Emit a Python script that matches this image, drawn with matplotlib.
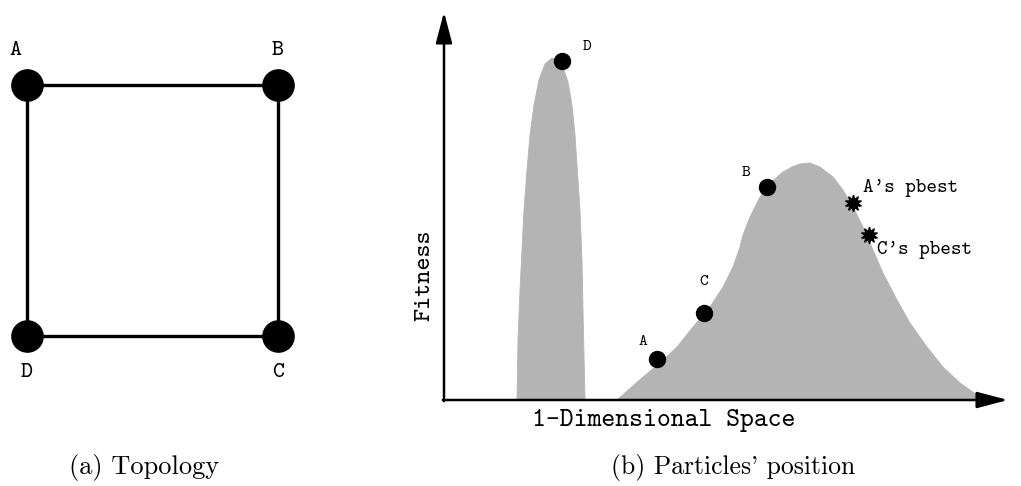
# coding=utf-8
"""
Ring topology of four particles and their position on a 1-D fitness landscape.
"""
import matplotlib
import matplotlib.pyplot as plt

GRAY = '#b4b4b4'
MONO = 'cmtt10'   # typewriter font shipped with matplotlib
SERIF = 'cmr10'

# (a) topology: nodes on the unit square
node_names = ['A', 'B', 'C', 'D']
node_x = [0, 1, 1, 0]
node_y = [1, 1, 0, 0]
edges = [('A', 'B'), ('B', 'C'), ('C', 'D'), ('D', 'A')]

# (b) fitness landscape, outlines (space, fitness)
peak_x = [73, 74, 76, 78, 80, 83, 86, 90, 95, 101, 108,
          114, 120, 124, 128, 131, 133, 136, 138, 139, 140, 141]
peak_y = [0, 60, 110, 150, 190, 230, 265, 295, 320, 336, 342,
          340, 330, 318, 295, 265, 235, 190, 140, 90, 45, 0]
hill_x = [173, 199, 216, 233, 249, 266, 279, 289, 296, 299, 306, 316, 326,
          339, 348, 356, 366, 376, 389, 399, 409, 419, 429, 439, 453, 466,
          483, 499, 516, 533, 548]
hill_y = [0, 23, 37, 53, 73, 93, 113, 133, 153, 165, 183, 203, 217,
          228, 233, 236, 237, 233, 223, 210, 193, 173, 150, 127, 100, 77,
          53, 33, 17, 5, 0]

# particles
part_names = ['A', 'B', 'C', 'D']
part_x = [213, 323, 260, 118]
part_y = [41, 213, 87, 339]
pbest_names = ["A's pbest", "C's pbest"]
pbest_x = [409, 425]
pbest_y = [197, 165]

fig = plt.figure(figsize=(10.21, 4.86), dpi=100)

# ---- (a) topology
ax1 = fig.add_axes([27 / 1021., 150 / 486., 251 / 1021., 251 / 486.])
ax1.set_xlim(0, 1)
ax1.set_ylim(0, 1)
ax1.axis('off')
pos = dict(zip(node_names, zip(node_x, node_y)))
for a, b in edges:
    ax1.plot([pos[a][0], pos[b][0]], [pos[a][1], pos[b][1]], color='k', lw=2.4,
             solid_capstyle='butt', clip_on=False, zorder=1)
ax1.plot(node_x, node_y, 'o', color='k', ms=22.5, ls='none', clip_on=False, zorder=2)
for n, x, y in zip(node_names, node_x, node_y):
    dx = -8 if n == 'A' else 0
    dy = 25 if y == 1 else -26
    ax1.annotate(n, (x, y), xytext=(dx, dy), textcoords='offset points',
                 ha='center', va='center', fontsize=16.5, family=MONO)

# ---- (b) particles' position
ax2 = fig.add_axes([444 / 1021., 86 / 486., 564 / 1021., 388 / 486.])
ax2.set_xlim(0, 564)
ax2.set_ylim(0, 388)
ax2.axis('off')
ax2.fill(peak_x, peak_y, color=GRAY, lw=0.6, ec=GRAY)
ax2.fill(hill_x, hill_y, color=GRAY, lw=0.6, ec=GRAY)

# axes with arrows
arw = dict(arrowstyle='-|>,head_length=0.95,head_width=0.25', color='k',
           lw=1.8, mutation_scale=20, shrinkA=0, shrinkB=0)
ax2.annotate('', xy=(1, 0), xytext=(-0.002, 0), xycoords='axes fraction',
             arrowprops=arw)
ax2.annotate('', xy=(0, 1), xytext=(0, -0.003), xycoords='axes fraction',
             arrowprops=arw)

ax2.plot(part_x, part_y, 'o', color='k', ms=11.5, ls='none', clip_on=False)
offs = {'A': (-10, 12), 'B': (-15, 10), 'C': (0, 22), 'D': (18, 10)}
for n, x, y in zip(part_names, part_x, part_y):
    ax2.annotate(n, (x, y), xytext=offs[n], textcoords='offset points',
                 ha='center', va='center', fontsize=12, family=MONO)

ax2.plot(pbest_x, pbest_y, marker=(10, 1, 0), color='k', ms=12, ls='none')
ax2.annotate(pbest_names[0], (pbest_x[0], pbest_y[0]), xytext=(7, 11),
             textcoords='offset points', ha='left', va='center',
             fontsize=14.5, family=MONO)
ax2.annotate(pbest_names[1], (pbest_x[1], pbest_y[1]), xytext=(6, -11),
             textcoords='offset points', ha='left', va='center',
             fontsize=14.5, family=MONO)

fig.text(425 / 1021., 1 - 275 / 486., 'Fitness', rotation=90, ha='center',
         va='center', fontsize=18, family=MONO)
fig.text(664 / 1021., 1 - 420 / 486., '1-Dimensional Space', ha='center',
         va='center', fontsize=19, family=MONO)

# captions
fig.text(144 / 1021., 1 - 467 / 486., '(a) Topology', ha='center', va='center',
         fontsize=19, family=SERIF)
fig.text(733 / 1021., 1 - 467 / 486., "(b) Particles' position", ha='center',
         va='center', fontsize=18.5, family=SERIF)

plt.savefig('out.png', dpi=100)
plt.close()
